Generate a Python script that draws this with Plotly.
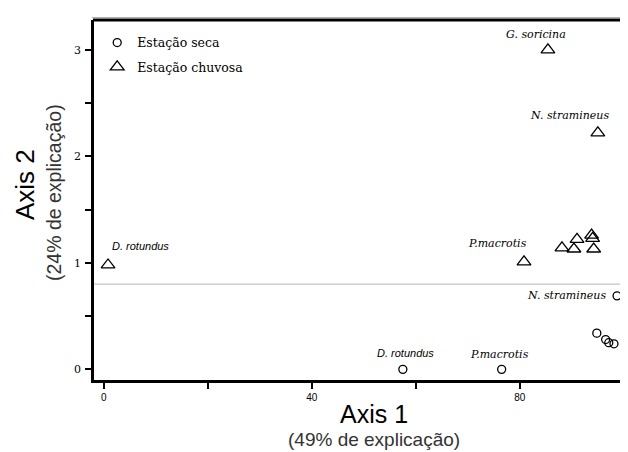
import plotly.graph_objects as go

# ---- data ----
seca_x = [57.5, 76.5, 98.7, 94.8, 96.5, 97.1, 98.1]
seca_y = [0.0, 0.0, 0.69, 0.34, 0.28, 0.25, 0.24]

chuvosa_x = [0.8, 80.8, 85.4, 95.0, 88.1, 90.4, 91.0, 93.8, 94.0, 94.2]
chuvosa_y = [0.98, 1.01, 3.0, 2.22, 1.14, 1.13, 1.22, 1.26, 1.23, 1.13]

# species labels: text, series, index of the point in that series
label_text = ["D. rotundus", "P.macrotis", "G. soricina", "N. stramineus",
              "D. rotundus", "P.macrotis", "N. stramineus"]
label_series = ["chuvosa", "chuvosa", "chuvosa", "chuvosa", "seca", "seca", "seca"]
label_index = [0, 1, 2, 3, 0, 1, 2]

reference_line_y = 0.80

x_tickvals = [0, 20, 40, 60, 80, 100]
x_ticktext = ["0", "", "40", "", "80", ""]
y_tickvals = [0, 0.5, 1, 1.5, 2, 2.5, 3]
y_ticktext = ["0", "", "1", "", "2", "", "3"]

# ---- styles ----
SERIF = "DejaVu Serif"
SANS = "Liberation Sans"
label_style = {
    0: dict(font=SANS, dx=32, dy=19, anchor="center"),
    1: dict(font=SERIF, dx=-27, dy=18, anchor="center"),
    2: dict(font=SERIF, dx=-12, dy=15, anchor="center"),
    3: dict(font=SERIF, dx=-28, dy=17, anchor="center"),
    4: dict(font=SANS, dx=3, dy=16, anchor="center"),
    5: dict(font=SERIF, dx=-2, dy=15, anchor="center"),
    6: dict(font=SERIF, dx=-9, dy=0, anchor="right"),
}

fig = go.Figure()
fig.add_trace(go.Scatter(
    x=seca_x, y=seca_y, mode="markers", name="Estação seca",
    legendgroup="a",
    marker=dict(symbol="circle-open", size=8, color="black", line=dict(width=1.3)),
))
fig.add_trace(go.Scatter(
    x=chuvosa_x, y=chuvosa_y, mode="markers", name="Estação chuvosa",
    legendgroup="b",
    marker=dict(symbol="triangle-up-open", size=12, color="black", line=dict(width=1.3)),
))

series = {"seca": (seca_x, seca_y), "chuvosa": (chuvosa_x, chuvosa_y)}
for i, (t, s, k) in enumerate(zip(label_text, label_series, label_index)):
    xs, ys = series[s]
    st = label_style[i]
    fig.add_annotation(
        x=xs[k], y=ys[k], xref="x", yref="y", text="<i>%s</i>" % t,
        showarrow=False, xshift=st["dx"], yshift=st["dy"], xanchor=st["anchor"],
        font=dict(family=st["font"], size=11, color="black"),
    )

# horizontal reference line
fig.add_shape(type="line", xref="paper", yref="y", x0=0, x1=1,
              y0=reference_line_y, y1=reference_line_y,
              line=dict(color="#c4c4c4", width=1.3), layer="below")
# top frame
fig.add_shape(type="line", xref="paper", yref="paper", x0=-0.002, x1=1.02, y0=1, y1=1,
              line=dict(color="black", width=3))
fig.add_shape(type="line", xref="paper", yref="paper", x0=-0.004, x1=1.02, y0=1.007, y1=1.007,
              line=dict(color="#b0b0b0", width=1))

# axis titles
fig.add_annotation(xref="paper", yref="paper", x=0.524, y=-0.094, yanchor="middle",
                   text="Axis 1", showarrow=False,
                   font=dict(family=SANS, size=25, color="black"))
fig.add_annotation(xref="paper", yref="paper", x=0.524, y=-0.165, yanchor="middle",
                   text="(49% de explicação)", showarrow=False,
                   font=dict(family=SANS, size=19, color="#333333"))
fig.add_annotation(xref="paper", yref="paper", x=-0.129, y=0.542, xanchor="center",
                   yanchor="middle", textangle=-90,
                   text="Axis 2", showarrow=False,
                   font=dict(family=SANS, size=26, color="black"))
fig.add_annotation(xref="paper", yref="paper", x=-0.075, y=0.522, xanchor="center",
                   yanchor="middle", textangle=-90,
                   text="(24% de explicação)", showarrow=False,
                   font=dict(family=SANS, size=19.5, color="#333333"))

# the page body adds an 8px margin, so the figure is 620x444 placed at (8, 8)
fig.update_layout(
    width=620, height=444,
    margin=dict(l=86, r=0, t=12, b=72),
    paper_bgcolor="white", plot_bgcolor="white",
    showlegend=True,
    legend=dict(x=0.006, y=0.978, xanchor="left", yanchor="top",
                bgcolor="rgba(0,0,0,0)", traceorder="grouped", tracegroupgap=5,
                font=dict(family=SERIF, size=12.5, color="black")),
    xaxis=dict(range=[-1.9, 100.8], showgrid=False, zeroline=False,
               showline=True, linecolor="black", linewidth=2.5,
               ticks="outside", ticklen=6, tickwidth=2, tickcolor="black",
               tickvals=x_tickvals, ticktext=x_ticktext,
               tickfont=dict(family=SANS, size=10, color="black")),
    yaxis=dict(range=[-0.10, 3.28], showgrid=False, zeroline=False,
               showline=True, linecolor="black", linewidth=2.5,
               ticks="outside", ticklen=6, tickwidth=2, tickcolor="black",
               ticklabelstandoff=2,
               tickvals=y_tickvals, ticktext=y_ticktext,
               tickfont=dict(family=SERIF, size=11, color="black")),
)

fig.write_html("out.html")
